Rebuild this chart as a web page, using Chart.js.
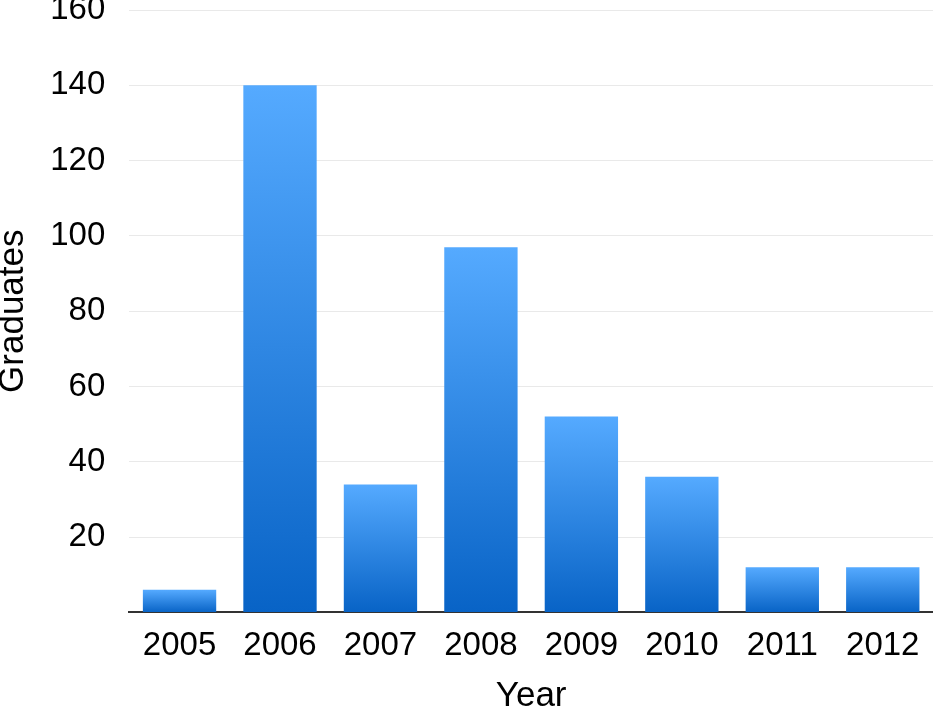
<!DOCTYPE html>
<html>
<head>
<meta charset="utf-8">
<script src="https://cdn.jsdelivr.net/npm/chart.js@4/dist/chart.umd.min.js"></script>
<style>
  html, body { margin: 0; padding: 0; background: #fff; }
  #wrap { width: 933px; height: 713px; position: relative; }
</style>
</head>
<body>
<div id="wrap"><canvas id="chart"></canvas></div>
<script>
const years = ['2005', '2006', '2007', '2008', '2009', '2010', '2011', '2012'];
const graduates = [6, 140, 34, 97, 52, 36, 12, 12];
const yTicks = [0, 20, 40, 60, 80, 100, 120, 140, 160];

const FONT = '"Liberation Sans", Arial, Helvetica, sans-serif';

// chaque barre a son propre dégradé, clair en haut, foncé en bas
function barGradient(ctx) {
    const chart = ctx.chart;
    const y = chart.scales.y;
    if (!chart.chartArea || !y || ctx.raw === undefined) return '#2a82e0';
    const top = y.getPixelForValue(ctx.raw);
    const bottom = y.getPixelForValue(0);
    if (!isFinite(top) || !isFinite(bottom) || top === bottom) return '#2a82e0';
    const g = chart.ctx.createLinearGradient(0, top, 0, bottom);
    g.addColorStop(0, '#55aaff');
    g.addColorStop(1, '#0863c6');
    return g;
}

new Chart(document.getElementById('chart').getContext('2d'), {
    type: 'bar',
    data: {
        labels: years,
        datasets: [{
            label: 'Graduates',
            data: graduates,
            backgroundColor: barGradient,
            borderWidth: 0,
            barPercentage: 0.73,
            categoryPercentage: 1
        }]
    },
    options: {
        responsive: true,
        maintainAspectRatio: false,
        animation: false,
        layout: { padding: { top: 0, right: 0, left: 0, bottom: 0 } },
        plugins: {
            legend: { display: false },
            tooltip: { enabled: false }
        },
        scales: {
            x: {
                afterFit: (axis) => { axis.paddingLeft = 0; axis.paddingRight = 0; },
                grid: { display: false, drawTicks: false },
                border: { display: true, color: '#333', width: 2 },
                ticks: {
                    color: '#000',
                    padding: 17,
                    font: { family: FONT, size: 33, lineHeight: 1.0 }
                },
                title: {
                    display: true,
                    text: 'Year',
                    color: '#000',
                    padding: { top: 0, bottom: 0 },
                    font: { family: FONT, size: 35, lineHeight: 0.96 }
                }
            },
            y: {
                min: 0,
                max: 160,
                afterBuildTicks: (axis) => { axis.ticks = yTicks.map(v => ({ value: v })); },
                // le padding des ticks ne doit pas pousser le haut du graphique
                afterFit: (axis) => { axis.paddingTop = 10; axis.paddingBottom = 0; },
                grid: { color: '#e9e9e9', lineWidth: 1, drawTicks: false },
                border: { display: false },
                ticks: {
                    color: '#000',
                    padding: 24,
                    font: { family: FONT, size: 33, lineHeight: 0.6 },
                    callback: (v) => v === 0 ? '' : v
                },
                title: {
                    display: true,
                    text: 'Graduates',
                    color: '#000',
                    padding: { top: 0, bottom: 0 },
                    font: { family: FONT, size: 35, lineHeight: 0.75 }
                }
            }
        }
    }
});
</script>
</body>
</html>
